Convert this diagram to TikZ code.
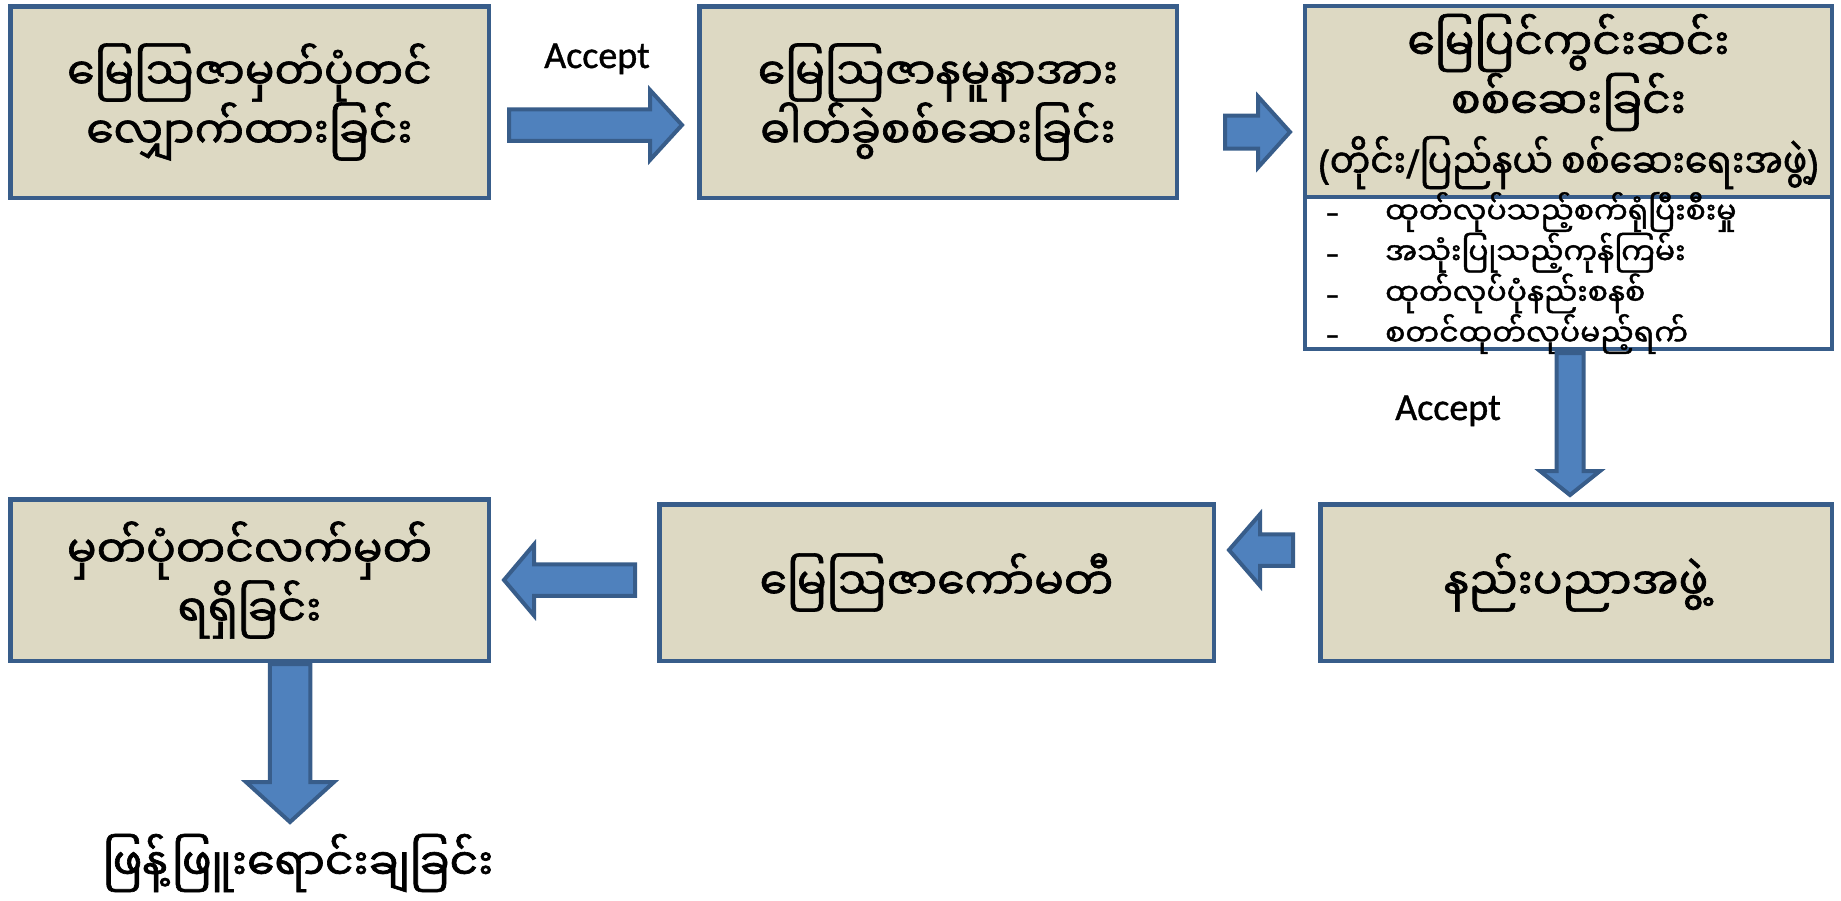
\documentclass[tikz,border=0pt]{standalone}
\usepackage{fontspec}
\setmainfont{Carlito}
\newfontfamily\mya[Script=Myanmar, FakeBold=1.5]{Noto Sans Myanmar UI}
\newfontfamily\latn[FakeBold=1.5]{Noto Sans}
\newfontfamily\calib{Carlito}
\newfontfamily\calibb[FakeBold=1]{Carlito}
\usetikzlibrary{calc}
\definecolor{boxfill}{HTML}{DDD9C3}
\definecolor{boxline}{HTML}{385D8A}
\definecolor{arrowfill}{HTML}{4F81BD}
\tikzset{
  box/.style={draw=boxline, fill=boxfill, line width=4.5pt, align=center, inner sep=0pt,
    font=\mya\fontsize{44}{59}\selectfont},
  listbox/.style={draw=boxline, fill=white, line width=4.5pt, inner sep=0pt},
  listtxt/.style={align=left, inner sep=0pt, font=\mya\fontsize{30}{36}\selectfont},
  acc/.style={anchor=base, inner sep=0pt, font=\calibb\fontsize{38}{40}\selectfont},
  plaintxt/.style={inner sep=0pt, font=\mya\fontsize{44}{59}\selectfont},
  barrow/.style={draw=boxline, fill=arrowfill, line width=4pt, line join=miter}
}
\newcommand{\blockarrow}[5]{%
  \coordinate (bam) at ($(#2)!#5!(#1)$);
  \filldraw[barrow] ($(#1)!#3!90:(#2)$) -- ($(bam)!#3!-90:(#1)$) -- ($(bam)!#4!-90:(#1)$)
    -- (#2) -- ($(bam)!#4!90:(#1)$) -- ($(bam)!#3!90:(#1)$) -- ($(#1)!#3!-90:(#2)$) -- cycle;}
\newcommand{\dash}{\makebox[60pt][l]{\calib\bfseries –}}
\begin{document}
\begin{tikzpicture}[x=1pt, y=-1pt]
\useasboundingbox (0,0) rectangle (1841,900);

% boxes
\node[box, minimum width=478.5pt, minimum height=191.5pt] (b1) at (249.5,102)
  {မြေဩဇာမှတ်ပုံတင်\\လျှောက်ထားခြင်း};
\node[box, minimum width=477.5pt, minimum height=191.5pt] (b2) at (938,102)
  {မြေဩဇာနမူနာအား\\ဓါတ်ခွဲစစ်ဆေးခြင်း};
\node[listbox, minimum width=527pt, minimum height=152pt] (b3l) at (1568.5,273) {};
\node[box, minimum width=527pt, minimum height=191pt] (b3) at (1568.5,101.5)
  {မြေပြင်ကွင်းဆင်း\\စစ်ဆေးခြင်း\\\scalebox{0.9}[1]{\fontsize{40}{59}\selectfont{\latn(}တိုင်း{\latn/}ပြည်နယ်\hspace{9pt}စစ်ဆေးရေးအဖွဲ့{\latn)}}};
\node[listtxt, anchor=west] (l3) at (1325,273)
  {\dash ထုတ်လုပ်သည့်စက်ရုံပြီးစီးမှု\\
   \dash အသုံးပြုသည့်ကုန်ကြမ်း\\
   \dash ထုတ်လုပ်ပုံနည်းစနစ်\\
   \dash စတင်ထုတ်လုပ်မည့်ရက်};
\node[box, minimum width=478.5pt, minimum height=161.5pt] (b4) at (249.5,580)
  {မှတ်ပုံတင်လက်မှတ်\\ရရှိခြင်း};
\node[box, minimum width=554.5pt, minimum height=156.5pt] (b5) at (936.5,582.5)
  {မြေဩဇာကော်မတီ};
\node[box, minimum width=511.5pt, minimum height=156.5pt] (b6) at (1576,582.5)
  {နည်းပညာအဖွဲ့};
\node[plaintxt] (dist) at (298,863) {ဖြန့်ဖြူးရောင်းချခြင်း};

% labels
\node[acc] (acc1) at (597,68) {Accept};
\node[acc] (acc2) at (1448,420) {Accept};

% block arrows
\coordinate (a1s) at (509,125);  \coordinate (a1t) at (682,125);
\coordinate (a2s) at (1225,132); \coordinate (a2t) at (1290,132);
\coordinate (a3s) at (1570,353); \coordinate (a3t) at (1570,495);
\coordinate (a4s) at (1293,550); \coordinate (a4t) at (1229,550);
\coordinate (a5s) at (635,580);  \coordinate (a5t) at (504,580);
\coordinate (a6s) at (290,664);  \coordinate (a6t) at (290,822);
\blockarrow{a1s}{a1t}{15.75pt}{35pt}{32pt}
\blockarrow{a2s}{a2t}{16.5pt}{35.5pt}{32pt}
\blockarrow{a3s}{a3t}{13.5pt}{30pt}{24pt}
\blockarrow{a4s}{a4t}{15.75pt}{35.75pt}{31pt}
\blockarrow{a5s}{a5t}{15.75pt}{35.5pt}{30pt}
\blockarrow{a6s}{a6t}{20.25pt}{44pt}{40pt}
\end{tikzpicture}
\end{document}
